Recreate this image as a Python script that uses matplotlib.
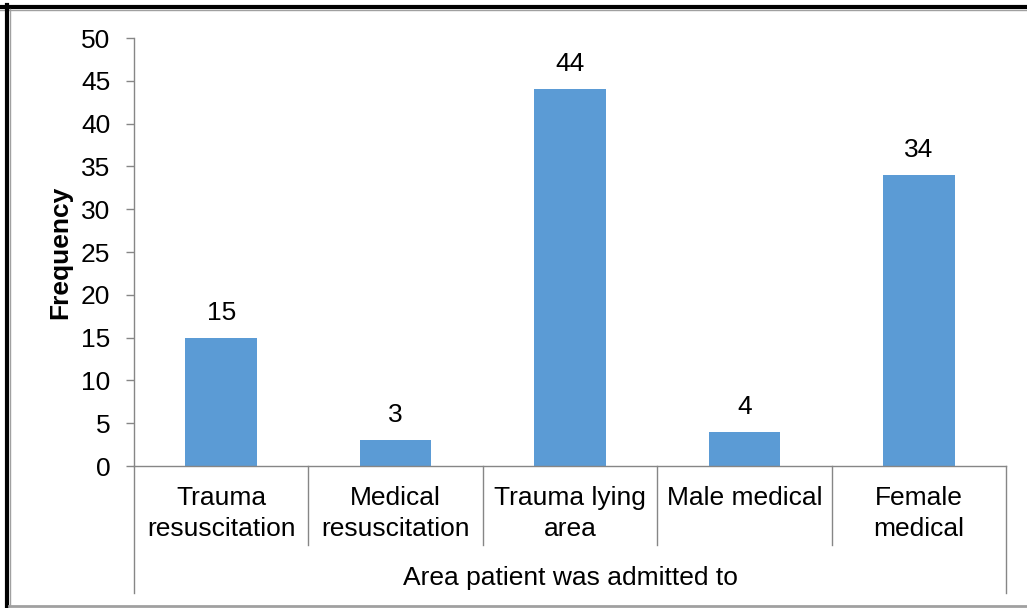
import matplotlib.pyplot as plt
from matplotlib.lines import Line2D

plt.rcParams['font.family'] = ['Liberation Sans', 'DejaVu Sans']

# data
categories = ["Trauma\nresuscitation", "Medical\nresuscitation", "Trauma lying\narea",
              "Male medical", "Female\nmedical"]
frequency = [15, 3, 44, 4, 34]
x_title = "Area patient was admitted to"
y_title = "Frequency"

bar_color = "#5B9BD5"
axis_gray = "#868686"
fs = 19

W, H = 1027, 608
fig = plt.figure(figsize=(W / 100, H / 100), dpi=100)
ax = fig.add_axes([134 / W, (H - 466) / H, 872 / W, 428 / H])

pos = list(range(len(frequency)))
ax.bar(pos, frequency, width=0.41, color=bar_color, zorder=2)
for p, v in zip(pos, frequency):
    ax.annotate(str(v), (p, v), xytext=(0, 18), textcoords="offset pixels",
                ha="center", va="baseline", fontsize=fs)

ax.set_xlim(-0.5, len(frequency) - 0.5)
ax.set_ylim(0, 50)
ax.set_yticks(range(0, 51, 5))
ax.tick_params(axis="y", length=6, width=1, color=axis_gray, pad=11, labelsize=fs)
ax.set_xticks([])
for s in ["top", "right"]:
    ax.spines[s].set_visible(False)
for s in ["left", "bottom"]:
    ax.spines[s].set_color(axis_gray)
    ax.spines[s].set_linewidth(1)

# category dividers and labels below the axis
trans = ax.get_xaxis_transform()
inner_bottom = (466 - 545) / 428
outer_bottom = (466 - 593) / 428
for i in range(len(frequency) + 1):
    xb = i - 0.5
    yb = outer_bottom if i in (0, len(frequency)) else inner_bottom
    ax.plot([xb, xb], [0, yb], color=axis_gray, lw=1, transform=trans, clip_on=False)

for p, lab in zip(pos, categories):
    ax.text(p, (466 - 486) / 428, lab, transform=trans, ha="center", va="top",
            fontsize=fs, linespacing=1.35)

ax.text(0.5, (466 - 578) / 428, x_title, transform=ax.transAxes, ha="center",
        va="center", fontsize=fs)
fig.text(60 / W, 1 - 252 / H, y_title, rotation=90, ha="center", va="center",
         fontsize=fs, fontweight="bold")

# outer frame like the source image
fig.add_artist(Line2D([0, 1], [1 - 7 / H, 1 - 7 / H], color="black", lw=3,
                      transform=fig.transFigure))
fig.add_artist(Line2D([0, 1], [1 - 9.5 / H, 1 - 9.5 / H], color="#A0A0A0", lw=1,
                      transform=fig.transFigure))
fig.add_artist(Line2D([7 / W, 7 / W], [0, 1 - 5 / H], color="black", lw=3,
                      transform=fig.transFigure))
fig.add_artist(Line2D([9.5 / W, 9.5 / W], [2 / H, 1 - 9 / H], color="#A0A0A0", lw=1,
                      transform=fig.transFigure))
fig.add_artist(Line2D([9 / W, 1], [2.5 / H, 2.5 / H], color="#A0A0A0", lw=2,
                      transform=fig.transFigure))

fig.savefig("out.png", dpi=100)
